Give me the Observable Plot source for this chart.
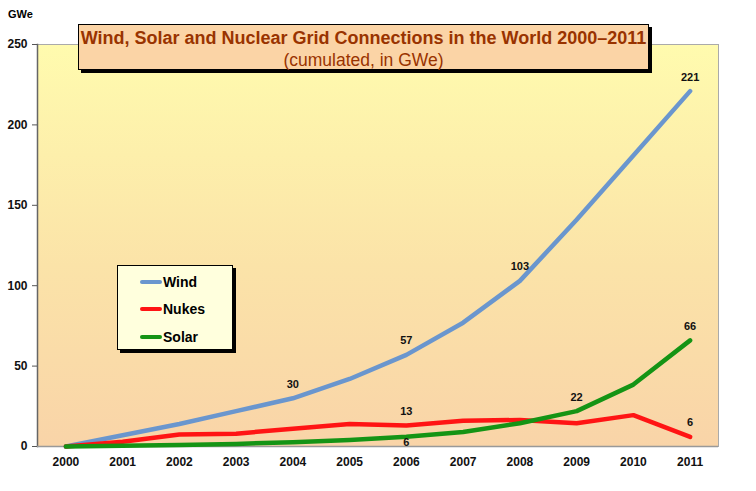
<!DOCTYPE html>
<html>
<head>
<meta charset="utf-8">
<script src="https://cdn.jsdelivr.net/npm/d3@7"></script>
<script src="https://cdn.jsdelivr.net/npm/@observablehq/plot@0.6"></script>
<style>
  body { margin: 0; background: #fff; font-family: "Liberation Sans", Arial, sans-serif; }
  #wrap { position: relative; width: 756px; height: 491px; }
  #title {
    position: absolute; left: 78px; top: 24px; width: 571px; height: 46px;
    background: #FBD4A6; border: 1px solid #000; box-shadow: 3px 3px 0 #000;
    color: #993300; box-sizing: border-box;
  }
  #title .t1, #title .t2 { position: absolute; left: 0; right: 0; text-align: center; white-space: nowrap; line-height: 15px; }
  #title .t1 { font-weight: bold; font-size: 18px; top: 6px; }
  #title .t2 { font-size: 17.5px; top: 28px; }
  #legend {
    position: absolute; left: 117px; top: 265px; width: 116px; height: 85px;
    background: #FFFFDD; border: 1px solid #000; box-shadow: 3px 3px 0 #000; box-sizing: border-box;
  }
  .item { position: absolute; left: 22px; font-weight: bold; font-size: 14px; line-height: 16px; }
  .item .sw { display: inline-block; width: 22px; height: 4px; border-radius: 2px; vertical-align: middle; margin-right: 1px; position: relative; top: -1px; }
  #unit { position: absolute; left: 8px; top: 8px; font-weight: bold; font-size: 11px; }
</style>
</head>
<body>
<svg width="0" height="0" style="position:absolute">
  <defs>
    <linearGradient id="bgGrad" x1="0" y1="0" x2="0" y2="1">
      <stop offset="0%" stop-color="#FFFBAE"/>
      <stop offset="55%" stop-color="#FBE3A8"/>
      <stop offset="100%" stop-color="#F9D4A8"/>
    </linearGradient>
  </defs>
</svg>
<div id="wrap"></div>
<script>
const years = [2000, 2001, 2002, 2003, 2004, 2005, 2006, 2007, 2008, 2009, 2010, 2011];
const wind  = [0, 7, 14, 22, 30, 42, 57, 77, 103, 141, 181, 221];
const nukes = [0, 3, 7.5, 8, 11, 14, 13, 16, 16.5, 14.5, 19.5, 6];
const solar = [0, 0.5, 1, 1.6, 2.7, 4, 6, 9, 14.5, 22, 38.5, 66];
const seriesNames = ["Wind", "Nukes", "Solar"];
const seriesColors = ["#6A96CE", "#FF1414", "#159415"];
const yTicks = [0, 50, 100, 150, 200, 250];

// value labels
const labelSeries = ["Wind", "Wind", "Wind", "Wind", "Nukes", "Nukes", "Solar", "Solar", "Solar"];
const labelYears  = [2004, 2006, 2008, 2011, 2006, 2011, 2006, 2009, 2011];
const labelTexts  = ["30", "57", "103", "221", "13", "6", "6", "22", "66"];
const labelAbove  = [true, true, true, true, true, true, false, true, true];

const valuesBy = {Wind: wind, Nukes: nukes, Solar: solar};
const table = [];
seriesNames.forEach(s => years.forEach((y, i) => table.push({series: s, year: y, value: valuesBy[s][i]})));
const labels = labelTexts.map((t, i) => ({
  year: labelYears[i],
  value: valuesBy[labelSeries[i]][years.indexOf(labelYears[i])],
  text: t,
  above: labelAbove[i]
}));

const chart = Plot.plot({
  width: 756,
  height: 491,
  marginLeft: 37,
  marginRight: 38,
  marginTop: 44,
  marginBottom: 45,
  style: {fontFamily: "'Liberation Sans', Arial, sans-serif", background: "transparent", color: "#111"},
  x: {type: "point", domain: years, padding: 0.5, round: false},
  y: {domain: [0, 250]},
  color: {domain: seriesNames, range: seriesColors},
  marks: [
    Plot.frame({fill: "url(#bgGrad)", stroke: "#aaa"}),
    Plot.frame({anchor: "left", stroke: "#666", strokeWidth: 1.5}),
    Plot.ruleY([0], {stroke: "#999", strokeWidth: 1.5}),
    Plot.axisY({ticks: yTicks, tickSize: 5, tickPadding: 5, fontSize: 12, fontWeight: "bold", label: null, stroke: "#555"}),
    Plot.axisX({tickSize: 0, tickPadding: 11, fontSize: 12, fontWeight: "bold", label: null, tickFormat: d => String(d)}),
    Plot.line(table, {x: "year", y: "value", z: "series", stroke: "series", strokeWidth: 4.5, strokeLinecap: "round", strokeLinejoin: "round"}),
    Plot.text(labels.filter(d => d.above), {x: "year", y: "value", text: "text", dy: -14, fontSize: 11, fontWeight: "bold", fill: "#111"}),
    Plot.text(labels.filter(d => !d.above), {x: "year", y: "value", text: "text", dy: 6, fontSize: 11, fontWeight: "bold", fill: "#111"})
  ]
});

const wrap = document.getElementById("wrap");
wrap.appendChild(chart);

const unit = document.createElement("div");
unit.id = "unit";
unit.textContent = "GWe";
wrap.appendChild(unit);

const title = document.createElement("div");
title.id = "title";
title.innerHTML = '<span class="t1">Wind, Solar and Nuclear Grid Connections in the World 2000–2011</span><span class="t2">(cumulated, in GWe)</span>';
wrap.appendChild(title);

const legend = document.createElement("div");
legend.id = "legend";
const rowTops = [8, 35, 63];
seriesNames.forEach((s, i) => {
  const it = document.createElement("div");
  it.className = "item";
  it.style.top = rowTops[i] + "px";
  it.innerHTML = '<span class="sw" style="background:' + seriesColors[i] + '"></span>' + s;
  legend.appendChild(it);
});
wrap.appendChild(legend);
</script>
</body>
</html>
